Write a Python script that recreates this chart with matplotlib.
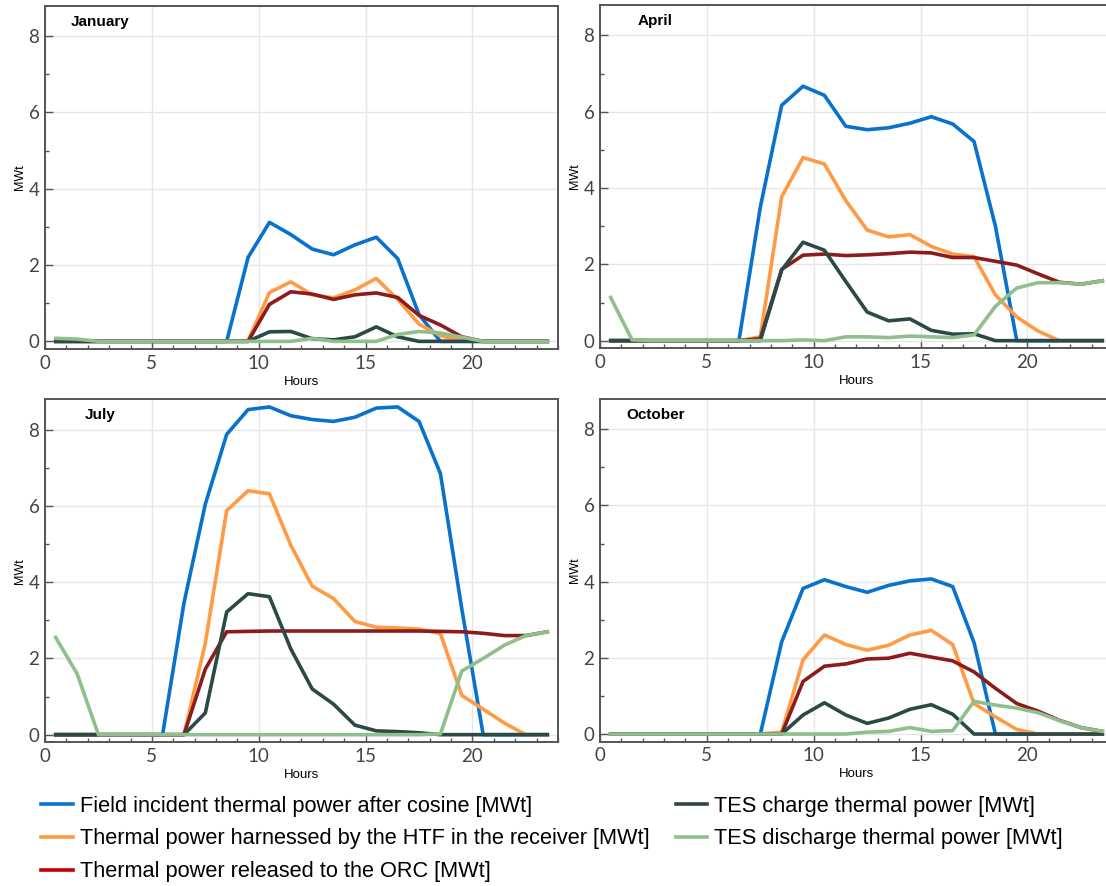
import matplotlib.pyplot as plt
from matplotlib.lines import Line2D
from matplotlib.ticker import MultipleLocator

# ── data (hourly values, MWt) ──────────────────────────────
hours = [0.5, 1.5, 2.5, 3.5, 4.5, 5.5, 6.5, 7.5, 8.5, 9.5, 10.5, 11.5,
         12.5, 13.5, 14.5, 15.5, 16.5, 17.5, 18.5, 19.5, 20.5, 21.5, 22.5, 23.5]

jan_field = [0, 0, 0, 0, 0, 0, 0, 0, 0, 2.2, 3.12, 2.8,
             2.42, 2.27, 2.53, 2.73, 2.17, 0.7, 0, 0, 0, 0, 0, 0]
jan_htf = [0, 0, 0, 0, 0, 0, 0, 0, 0, 0.02, 1.28, 1.56,
           1.22, 1.14, 1.35, 1.65, 1.1, 0.45, 0.15, 0.02, 0, 0, 0, 0]
jan_orc = [0, 0, 0, 0, 0, 0, 0, 0, 0, 0, 0.97, 1.3,
           1.24, 1.1, 1.22, 1.27, 1.15, 0.68, 0.43, 0.12, 0, 0, 0, 0]
jan_charge = [0, 0, 0, 0, 0, 0, 0, 0, 0, 0, 0.25, 0.26,
              0.07, 0.04, 0.12, 0.38, 0.12, 0, 0, 0, 0, 0, 0, 0]
jan_discharge = [0.08, 0.06, 0, 0, 0, 0, 0, 0, 0, 0, 0, 0,
                 0.08, 0, 0, 0, 0.18, 0.26, 0.22, 0.11, 0, 0, 0, 0]

apr_field = [0, 0, 0, 0, 0, 0, 0, 3.5, 6.17, 6.67, 6.43, 5.62,
             5.53, 5.58, 5.7, 5.87, 5.68, 5.22, 3.0, 0, 0, 0, 0, 0]
apr_htf = [0, 0, 0, 0, 0, 0, 0, 0.1, 3.77, 4.8, 4.63, 3.67,
           2.9, 2.72, 2.78, 2.47, 2.27, 2.2, 1.2, 0.62, 0.25, 0, 0, 0]
apr_orc = [0, 0, 0, 0, 0, 0, 0, 0.05, 1.87, 2.24, 2.27, 2.23,
           2.25, 2.28, 2.32, 2.3, 2.18, 2.18, 2.08, 1.98, 1.75, 1.53, 1.48, 1.57]
apr_charge = [0, 0, 0, 0, 0, 0, 0, 0, 1.85, 2.58, 2.37, 1.55,
              0.75, 0.52, 0.57, 0.27, 0.17, 0.18, 0, 0, 0, 0, 0, 0]
apr_discharge = [1.13, 0.02, 0, 0, 0, 0, 0, 0, 0, 0.02, 0, 0.1,
                 0.1, 0.08, 0.12, 0.1, 0.08, 0.15, 0.9, 1.38, 1.52, 1.52, 1.48, 1.57]

jul_field = [0, 0, 0, 0, 0, 0, 3.45, 6.05, 7.88, 8.53, 8.6, 8.37,
             8.27, 8.22, 8.33, 8.57, 8.6, 8.22, 6.85, 3.3, 0, 0, 0, 0]
jul_htf = [0, 0, 0, 0, 0, 0, 0, 2.4, 5.88, 6.4, 6.32, 4.97,
           3.9, 3.57, 2.97, 2.82, 2.8, 2.77, 2.65, 1.03, 0.67, 0.3, 0, 0]
jul_orc = [0, 0, 0, 0, 0, 0, 0, 1.72, 2.7, 2.71, 2.72, 2.72,
           2.72, 2.72, 2.72, 2.72, 2.72, 2.72, 2.71, 2.7, 2.66, 2.6, 2.6, 2.7]
jul_charge = [0, 0, 0, 0, 0, 0, 0, 0.57, 3.22, 3.7, 3.62, 2.25,
              1.2, 0.8, 0.25, 0.1, 0.08, 0.05, 0, 0, 0, 0, 0, 0]
jul_discharge = [2.55, 1.6, 0, 0, 0, 0, 0, 0, 0, 0, 0, 0,
                 0, 0, 0, 0, 0, 0, 0.02, 1.67, 2.0, 2.35, 2.6, 2.7]

oct_field = [0, 0, 0, 0, 0, 0, 0, 0, 2.42, 3.82, 4.05, 3.87,
             3.72, 3.9, 4.02, 4.07, 3.87, 2.4, 0, 0, 0, 0, 0, 0]
oct_htf = [0, 0, 0, 0, 0, 0, 0, 0, 0.05, 1.95, 2.6, 2.35,
           2.2, 2.33, 2.6, 2.72, 2.35, 0.8, 0.45, 0.12, 0, 0, 0, 0]
oct_orc = [0, 0, 0, 0, 0, 0, 0, 0, 0, 1.38, 1.78, 1.84,
           1.97, 1.99, 2.12, 2.02, 1.92, 1.63, 1.2, 0.8, 0.6, 0.36, 0.17, 0.07]
oct_charge = [0, 0, 0, 0, 0, 0, 0, 0, 0, 0.5, 0.82, 0.5,
              0.28, 0.42, 0.65, 0.77, 0.52, 0, 0, 0, 0, 0, 0, 0]
oct_discharge = [0, 0, 0, 0, 0, 0, 0, 0, 0, 0, 0, 0,
                 0.05, 0.07, 0.17, 0.07, 0.09, 0.86, 0.76, 0.68, 0.56, 0.35, 0.17, 0.07]

months = ['January', 'April', 'July', 'October']
series = [
    [jan_field, jan_htf, jan_orc, jan_charge, jan_discharge],
    [apr_field, apr_htf, apr_orc, apr_charge, apr_discharge],
    [jul_field, jul_htf, jul_orc, jul_charge, jul_discharge],
    [oct_field, oct_htf, oct_orc, oct_charge, oct_discharge],
]
labels = ['Field incident thermal power after cosine [MWt]',
          'Thermal power harnessed by the HTF in the receiver [MWt]',
          'Thermal power released to the ORC [MWt]',
          'TES charge thermal power [MWt]',
          'TES discharge thermal power [MWt]']
line_colors = ['#0872cc', '#ff9a45', '#8c1c1c', '#2c4a45', '#8fbf8c']
legend_colors = ['#0872cc', '#ff9a45', '#c00000', '#2c4a45', '#8fbf8c']

plt.rcParams['font.family'] = ['Liberation Sans', 'DejaVu Sans']

fig = plt.figure(figsize=(11.06, 8.86), dpi=100)

# panel positions [left, bottom, width, height]
positions = [[0.0407, 0.6061, 0.4638, 0.3875],
             [0.5425, 0.6069, 0.4638, 0.3875],
             [0.0407, 0.1622, 0.4638, 0.3871],
             [0.5425, 0.1629, 0.4638, 0.3871]]

for pos, month, vals in zip(positions, months, series):
    ax = fig.add_axes(pos)
    for v, c in zip(vals, line_colors):
        ax.plot(hours, v, color=c, lw=2.6, solid_joinstyle='round')
    ax.set_xlim(0, 24)
    ax.set_ylim(-0.2, 8.8)
    ax.xaxis.set_major_locator(MultipleLocator(5))
    ax.xaxis.set_minor_locator(MultipleLocator(1))
    ax.yaxis.set_major_locator(MultipleLocator(2))
    ax.yaxis.set_minor_locator(MultipleLocator(1))
    ax.grid(True, which='major', color='#e6e6e6', lw=1.0)
    ax.set_axisbelow(True)
    ax.tick_params(which='both', direction='in', color='#555555', width=1.0,
                   labelsize=13.5, labelcolor='#444444')
    ax.tick_params(which='major', length=5.5)
    ax.tick_params(which='minor', length=3)
    ax.tick_params(axis='x', pad=4)
    ax.tick_params(axis='y', pad=4)
    for lab in ax.get_xticklabels() + ax.get_yticklabels():
        lab.set_family(['Lato', 'DejaVu Sans'])
    for sp in ax.spines.values():
        sp.set_color('#555555')
        sp.set_linewidth(1.4)
    ax.set_xlabel('Hours', fontsize=9.5, labelpad=3)
    ax.set_ylabel('MWt', fontsize=9, labelpad=2)
    ax.text(0.108, 0.953, month, transform=ax.transAxes, ha='center',
            va='center', fontsize=11, fontweight='bold')

handles = [Line2D([], [], color=c, lw=2.6) for c in legend_colors]
fig.legend(handles, labels, loc='upper left', bbox_to_anchor=(0.037, 0.102),
           ncol=2, frameon=False, fontsize=15.7, handlelength=1.45,
           handletextpad=0.33, labelspacing=0.54, columnspacing=1.2,
           borderpad=0, borderaxespad=0)

fig.savefig('out.png', dpi=100)
